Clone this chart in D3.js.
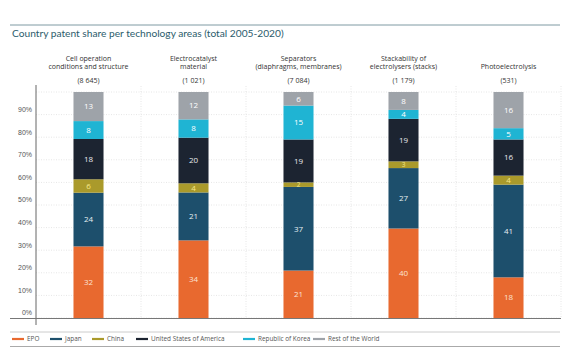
<!DOCTYPE html>
<html>
<head>
<meta charset="utf-8">
<script src="https://cdn.jsdelivr.net/npm/d3@7"></script>
<style>
  body { margin: 0; background: #fff; }
  svg { font-family: "Open Sans", "Noto Sans", sans-serif; }
</style>
</head>
<body>
<script>
// data
const areas = [
  ["Cell operation", "conditions and structure"],
  ["Electrocatalyst", "material"],
  ["Separators", "(diaphragms, membranes)"],
  ["Stackability of", "electrolysers (stacks)"],
  ["Photoelectrolysis"],
]
const totals = ["(8 645)", "(1 021)", "(7 084)", "(1 179)", "(531)"]
const countries = ["EPO", "Japan", "China", "United States of America", "Republic of Korea", "Rest of the World"]
const epo = [32, 34, 21, 40, 18]
const japan = [24, 21, 37, 27, 41]
const china = [6, 4, 2, 3, 4]
const usa = [18, 20, 19, 19, 16]
const korea = [8, 8, 15, 4, 5]
const rest = [13, 12, 6, 8, 16]
const yTicks = [0, 10, 20, 30, 40, 50, 60, 70, 80, 90]

const colors = ["#e8692f", "#1d4f6c", "#aa9a2b", "#1c2431", "#1fb4d3", "#9ea3a9"]
const labelColors = ["#fbe3d4", "#e6eef3", "#f6e98a", "#e8eaee", "#ffffff", "#ffffff"]

function draw() {
  const width = 570
  const height = 350
  const series = [epo, japan, china, usa, korea, rest]

  // one row per technology area, normalised so every bar reaches 100%
  const rows = areas.map((a, i) => {
    const row = {key: i}
    countries.forEach((c, j) => row[c] = series[j][i])
    return row
  })
  const stacked = d3.stack().keys(countries)
    .offset(d3.stackOffsetExpand)(rows)

  const svg = d3.select("body").append("svg")
      .attr("width", width)
      .attr("height", height)

  const xScale = d3.scaleBand()
    .domain(areas.map((d, i) => i))
    .range([36, 561])
    .paddingInner(0.714)
    .paddingOuter(0.357)

  const yScale = d3.scaleLinear()
    .domain([0, 1])
    .range([318, 92])

  // top rule and title
  svg.append("line")
      .attr("x1", 10).attr("x2", 560)
      .attr("y1", 25).attr("y2", 25)
      .attr("stroke", "#7e9aa3")
      .attr("stroke-width", 1)

  svg.append("text")
      .attr("x", 12)
      .attr("y", 37)
      .attr("fill", "#2c5c6c")
      .style("font-family", "Lato, 'Open Sans', sans-serif")
      .style("font-size", "10.2px")
      .text("Country patent share per technology areas (total 2005-2020)")

  // grid
  const grid = svg.append("g")
  grid.selectAll(".hgrid")
    .data(yTicks.concat([100]))
    .join("line")
      .attr("x1", 36).attr("x2", 561)
      .attr("y1", d => yScale(d / 100)).attr("y2", d => yScale(d / 100))
      .attr("stroke", "#e6e6e6")
      .attr("stroke-dasharray", "1,1.5")
  grid.selectAll(".vgrid")
    .data(areas.map((d, i) => i))
    .join("line")
      .attr("x1", d => xScale(d) + xScale.bandwidth() / 2 + xScale.step() / 2)
      .attr("x2", d => xScale(d) + xScale.bandwidth() / 2 + xScale.step() / 2)
      .attr("y1", 86).attr("y2", 318)
      .attr("stroke", "#e6e6e6")
      .attr("stroke-dasharray", "1,1.5")

  // y axis
  const yAxis = svg.append("g")
    .attr("transform", "translate(36,0)")
    .call(d3.axisLeft(yScale)
      .tickValues(yTicks.map(d => d / 100))
      .tickSize(0)
      .tickPadding(4)
      .tickFormat(d => Math.round(d * 100) + "%"))
  yAxis.select(".domain").remove()
  yAxis.selectAll("text")
      .attr("dy", "-0.45em")
      .attr("fill", "#555")
      .style("font-size", "7px")

  // bars
  const layers = svg.append("g").selectAll("g")
    .data(stacked)
    .join("g")
      .attr("fill", (d, i) => colors[i])

  layers.selectAll("rect")
    .data(d => d)
    .join("rect")
      .attr("x", d => xScale(d.data.key))
      .attr("y", d => yScale(d[1]))
      .attr("width", xScale.bandwidth())
      .attr("height", d => yScale(d[0]) - yScale(d[1]))

  // value labels
  stacked.forEach((layer, i) => {
    svg.append("g").selectAll("text")
      .data(layer)
      .join("text")
        .attr("x", d => xScale(d.data.key) + xScale.bandwidth() / 2)
        .attr("y", d => (yScale(d[0]) + yScale(d[1])) / 2)
        .attr("dy", "0.35em")
        .attr("text-anchor", "middle")
        .attr("fill", labelColors[i])
        .style("font-size", d => (d[1] - d[0]) < 0.03 ? "6.5px" : "8px")
        .text(d => d.data[countries[i]])
  })

  // axis lines
  svg.append("line")
      .attr("x1", 36).attr("x2", 36)
      .attr("y1", 85).attr("y2", 325)
      .attr("stroke", "#666")
  svg.append("line")
      .attr("x1", 10).attr("x2", 561)
      .attr("y1", 318.5).attr("y2", 318.5)
      .attr("stroke", "#777")

  // category headers
  const headers = svg.append("g").selectAll("g")
    .data(areas)
    .join("g")
      .attr("transform", (d, i) => `translate(${xScale(i) + xScale.bandwidth() / 2},0)`)
      .attr("text-anchor", "middle")
      .attr("fill", "#333")
      .style("font-size", "7px")
  headers.selectAll(".line")
    .data(d => d.length === 1 ? [null, d[0]] : d)
    .join("text")
      .attr("y", (d, i) => 61 + i * 7.5)
      .text(d => d)
  headers.append("text")
      .attr("y", (d, i) => 83)
      .text((d, i) => totals[i])

  // legend
  svg.append("line")
      .attr("x1", 10).attr("x2", 560)
      .attr("y1", 332).attr("y2", 332)
      .attr("stroke", "#ccc")
  svg.append("line")
      .attr("x1", 10).attr("x2", 560)
      .attr("y1", 346.5).attr("y2", 346.5)
      .attr("stroke", "#aaa")
      .attr("stroke-width", 1.2)

  const legendX = [12, 50, 92, 136, 243, 313]
  const legend = svg.append("g").selectAll("g")
    .data(countries)
    .join("g")
      .attr("transform", (d, i) => `translate(${legendX[i]},339)`)
  legend.append("line")
      .attr("x1", 0).attr("x2", 12)
      .attr("stroke", (d, i) => colors[i])
      .attr("stroke-width", 2.2)
  legend.append("text")
      .attr("x", 15)
      .attr("dy", "0.35em")
      .attr("fill", "#555")
      .style("font-size", "6.4px")
      .text(d => d)
}
draw()
</script>
</body>
</html>
